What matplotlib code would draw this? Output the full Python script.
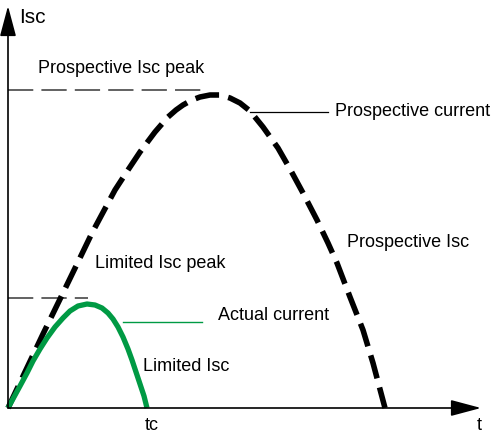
import matplotlib
matplotlib.use("Agg")
import matplotlib.pyplot as plt

# prospective (dashed) current: time, current (arbitrary units)
prosp_t = [0, 0.425, 0.875, 1.35, 1.75, 2.1, 2.3, 2.675, 3.0, 3.3, 3.675, 4.0,
           4.2, 4.375, 4.6, 4.8, 5.05, 5.3, 5.55, 5.8, 6.05, 6.375, 6.75, 7.05,
           7.375, 7.725, 8.0, 8.225, 8.55, 8.875, 9.125, 9.425]
prosp_i = [0, 0.9, 1.85, 2.825, 3.65, 4.375, 4.75, 5.45, 5.95, 6.4, 6.9, 7.275,
           7.45, 7.575, 7.7, 7.775, 7.825, 7.825, 7.75, 7.625, 7.425, 7.025, 6.5,
           5.975, 5.375, 4.7, 4.125, 3.625, 2.775, 1.95, 1.125, 0]

# limited (actual) current
limit_t = [0, 0.15, 0.3, 0.475, 0.625, 0.8, 0.975, 1.175, 1.375, 1.55, 1.75,
           1.975, 2.175, 2.35, 2.5, 2.625, 2.75, 2.875, 3.0, 3.1, 3.2, 3.3,
           3.4, 3.475]
limit_i = [0, 0.275, 0.55, 0.875, 1.175, 1.475, 1.75, 2.025, 2.25, 2.425, 2.55,
           2.6, 2.575, 2.5, 2.375, 2.225, 2.025, 1.775, 1.475, 1.2, 0.9, 0.6,
           0.3, 0]

prosp_peak = 7.95
prosp_peak_t = 4.925
limit_peak = 2.75
limit_peak_t = 2.0
tc = 3.6

green = '#009a44'
fs = 13

fig = plt.figure(figsize=(4.99, 4.34), dpi=100)
ax = fig.add_axes([0, 0, 1, 1])
ax.set_xlim(-0.2, 12.275)
ax.set_ylim(-0.65, 10.2)
ax.axis('off')

# axes with arrows
arrow = dict(arrowstyle='-|>,head_length=0.75,head_width=0.2', mutation_scale=25,
             lw=1.2, color='black', shrinkA=0, shrinkB=0)
ax.annotate('', xy=(0, 10.05), xytext=(0, 0), arrowprops=arrow)
ax.annotate('', xy=(11.825, 0), xytext=(0, 0), arrowprops=arrow)

# peak reference lines
ax.plot([0, prosp_peak_t], [prosp_peak, prosp_peak], color='#555555', lw=1.3,
        linestyle=(0, (14, 4.5)))
ax.plot([0, limit_peak_t], [limit_peak, limit_peak], color='#555555', lw=1.3,
        linestyle=(0, (14, 4.5)))

# curves
ax.plot(prosp_t, prosp_i, color='black', lw=4, linestyle=(0, (4.3, 1.7)),
        dash_capstyle='butt', dash_joinstyle='round')
ax.plot(limit_t, limit_i, color=green, lw=3.8, solid_capstyle='butt',
        solid_joinstyle='round')

# leader lines
ax.plot([6.05, 8.0], [7.4, 7.4], color='black', lw=0.9)
ax.plot([2.875, 4.85], [2.15, 2.15], color=green, lw=1.0)

# labels
ax.text(0.275, 9.625, 'Isc', fontsize=15, va='baseline', ha='left')
ax.text(0.75, 8.375, 'Prospective Isc peak', fontsize=fs, va='baseline')
ax.text(8.175, 7.3, 'Prospective current', fontsize=fs, va='baseline')
ax.text(8.475, 4.025, 'Prospective Isc', fontsize=fs, va='baseline')
ax.text(2.175, 3.5, 'Limited Isc peak', fontsize=fs, va='baseline')
ax.text(5.25, 2.2, 'Actual current', fontsize=fs, va='baseline')
ax.text(3.375, 0.925, 'Limited Isc', fontsize=fs, va='baseline')
ax.text(tc, -0.55, 'tc', fontsize=fs, va='baseline', ha='center')
ax.text(11.775, -0.55, 't', fontsize=fs, va='baseline', ha='center')

for t in ax.texts:
    t.set_family(['Liberation Sans', 'DejaVu Sans'])

fig.savefig('out.png', dpi=100)
